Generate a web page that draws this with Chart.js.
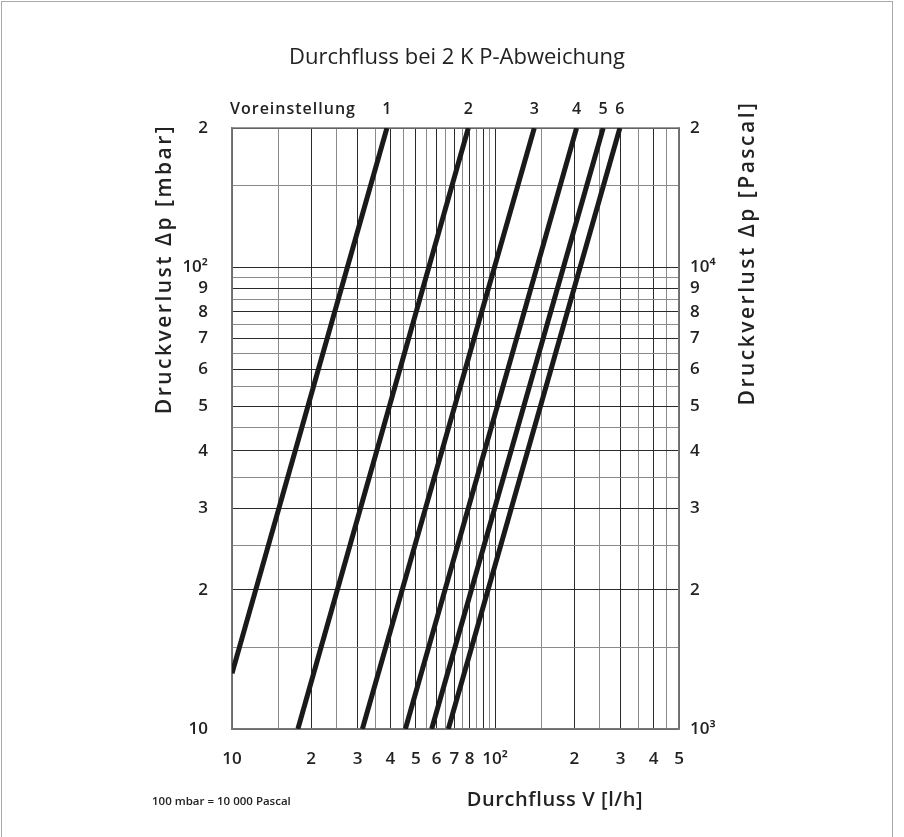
<!DOCTYPE html>
<html>
<head>
<meta charset="utf-8">
<script src="https://cdn.jsdelivr.net/npm/chart.js@4/dist/chart.umd.min.js"></script>
<style>
  html, body { margin: 0; padding: 0; background: #fff; }
  #wrap { width: 904px; height: 837px; position: relative; }
</style>
</head>
<body>
<div id="wrap"><canvas id="chart" width="904" height="837"></canvas></div>
<script>
// Voreinstellung (preset) curves
const presetNames = ["1", "2", "3", "4", "5", "6"];
const flowStart = [10, 17.8, 31.3, 45.6, 57.4, 66.4];
const lossStart = [13.2, 10, 10, 10, 10, 10];
const flowEnd = [38.8, 79.1, 140.9, 204, 257.5, 298];
const lossEnd = [200, 200, 200, 200, 200, 200];

// grid / tick values
const flowTicks = [10, 15, 20, 25, 30, 35, 40, 45, 50, 55, 60, 65, 70, 75, 80, 85, 90, 95, 100,
  150, 200, 250, 300, 350, 400, 450, 500];
const flowLabelValues = [10, 20, 30, 40, 50, 60, 70, 80, 100, 200, 300, 400, 500];
const flowLabelTexts = ["10", "2", "3", "4", "5", "6", "7", "8", "10²", "2", "3", "4", "5"];

const lossTicks = [10, 15, 20, 25, 30, 35, 40, 45, 50, 55, 60, 65, 70, 75, 80, 85, 90, 95, 100, 150, 200];
const lossLabelValues = [10, 20, 30, 40, 50, 60, 70, 80, 90, 100, 200];
const lossLabelTexts = ["10", "2", "3", "4", "5", "6", "7", "8", "9", "10²", "2"];

const pascalTicks = [1000, 2000, 3000, 4000, 5000, 6000, 7000, 8000, 9000, 10000, 20000];
const pascalLabelTexts = ["10³", "2", "3", "4", "5", "6", "7", "8", "9", "10⁴", "2"];

const INK = "#222";
const FONT = "'Open Sans', 'Noto Sans', sans-serif";

function labelFor(values, texts) {
  return (value) => {
    const i = values.findIndex((v) => Math.abs(v - value) < 1e-6);
    return i >= 0 ? texts[i] : "";
  };
}

function gridColor(ctx) {
  const v = ctx.tick ? ctx.tick.value : 0;
  const mag = Math.pow(10, Math.floor(Math.log10(v) + 1e-9));
  const m = v / mag;
  return Math.abs(m - Math.round(m)) < 1e-6 ? "#2a2a2a" : "#8a8a8a";
}

const datasets = presetNames.map((name, i) => ({
  label: name,
  data: [
    { x: flowStart[i], y: lossStart[i] },
    { x: flowEnd[i], y: lossEnd[i] },
  ],
  borderColor: "#1a1a1a",
  borderWidth: 5,
  pointRadius: 0,
  borderCapStyle: "butt",
  clip: 0,
  tension: 0,
}));

function rotatedText(ctx, text, x, y) {
  ctx.save();
  ctx.translate(x, y);
  ctx.rotate(-Math.PI / 2);
  ctx.fillText(text, 0, 0);
  ctx.restore();
}

const decorations = {
  id: "decorations",
  beforeDatasetsDraw(chart) {
    const { ctx, chartArea: a } = chart;
    ctx.save();
    ctx.strokeStyle = "#777";
    ctx.lineWidth = 1.5;
    ctx.strokeRect(a.left, a.top, a.right - a.left, a.bottom - a.top);
    ctx.restore();
  },
  afterDraw(chart) {
    const { ctx, chartArea: a, scales } = chart;
    ctx.save();
    ctx.fillStyle = INK;

    // outer frame
    ctx.strokeStyle = "#aaa";
    ctx.lineWidth = 1;
    ctx.strokeRect(1.5, 1.5, 891, 860);

    ctx.textBaseline = "middle";
    ctx.textAlign = "center";
    ctx.font = `22px ${FONT}`;
    ctx.fillText("Durchfluss bei 2 K P-Abweichung", 457, 58);

    ctx.font = `600 16px ${FONT}`;
    ctx.letterSpacing = "1px";
    ctx.textAlign = "left";
    ctx.fillText("Voreinstellung", a.left - 2, a.top - 19);
    ctx.letterSpacing = "0px";
    ctx.textAlign = "center";
    datasets.forEach((ds) => {
      const top = ds.data[ds.data.length - 1];
      ctx.fillText(ds.label, scales.x.getPixelForValue(top.x), a.top - 19);
    });

    ctx.font = `600 20px ${FONT}`;
    ctx.letterSpacing = "0.6px";
    ctx.fillText("Durchfluss V [l/h]", 555, 800);

    ctx.font = `600 11.5px ${FONT}`;
    ctx.letterSpacing = "0px";
    ctx.textAlign = "left";
    ctx.fillText("100 mbar = 10 000 Pascal", 152, 802);

    ctx.font = `600 21px ${FONT}`;
    ctx.letterSpacing = "2.5px";
    ctx.textAlign = "center";
    rotatedText(ctx, "Druckverlust Δp [mbar]", 165, 269);
    rotatedText(ctx, "Druckverlust Δp [Pascal]", 748, 253);
    ctx.restore();
  },
};

new Chart(document.getElementById("chart"), {
  type: "line",
  data: { datasets },
  options: {
    responsive: false,
    animation: false,
    layout: { padding: { top: 128, left: 0, right: 0, bottom: 0 } },
    plugins: { legend: { display: false }, tooltip: { enabled: false } },
    scales: {
      x: {
        type: "logarithmic",
        min: 10,
        max: 500,
        afterBuildTicks: (scale) => { scale.ticks = flowTicks.map((v) => ({ value: v })); },
        afterFit: (scale) => { scale.height = 108; },
        ticks: {
          autoSkip: false,
          maxRotation: 0,
          padding: 20,
          color: INK,
          font: { family: FONT, size: 17, weight: "600" },
          callback: labelFor(flowLabelValues, flowLabelTexts),
        },
        grid: { color: gridColor, lineWidth: 1, drawTicks: false },
        border: { color: "#777", width: 1.5 },
      },
      y: {
        type: "logarithmic",
        position: "left",
        min: 10,
        max: 200,
        afterBuildTicks: (scale) => { scale.ticks = lossTicks.map((v) => ({ value: v })); },
        afterFit: (scale) => { scale.width = 232; },
        ticks: {
          autoSkip: false,
          padding: 24,
          color: INK,
          font: { family: FONT, size: 17, weight: "600" },
          callback: labelFor(lossLabelValues, lossLabelTexts),
        },
        grid: { color: gridColor, lineWidth: 1, drawTicks: false },
        border: { color: "#777", width: 1.5 },
      },
      y2: {
        type: "logarithmic",
        position: "right",
        min: 1000,
        max: 20000,
        afterBuildTicks: (scale) => { scale.ticks = pascalTicks.map((v) => ({ value: v })); },
        afterFit: (scale) => { scale.width = 225; },
        ticks: {
          autoSkip: false,
          padding: 11,
          color: INK,
          font: { family: FONT, size: 17, weight: "600" },
          callback: labelFor(pascalTicks, pascalLabelTexts),
        },
        grid: { display: false, drawTicks: false },
        border: { color: "#777", width: 1.5 },
      },
    },
  },
  plugins: [decorations],
});
</script>
</body>
</html>
